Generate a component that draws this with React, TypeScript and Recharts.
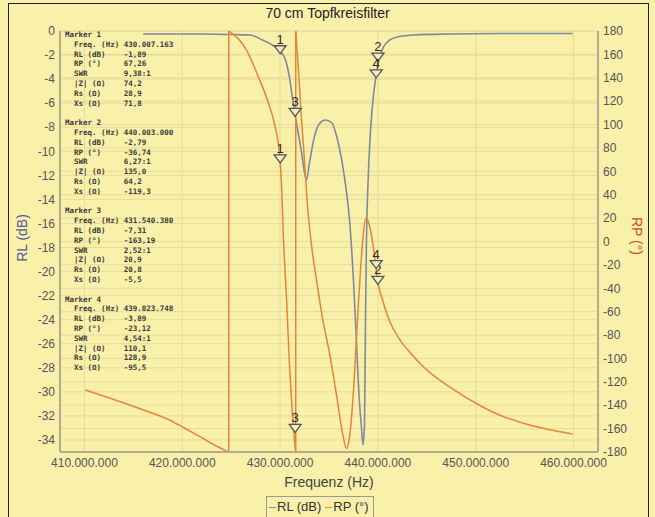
import React from "react"
import { LineChart, Line, XAxis, YAxis, CartesianGrid, ReferenceDot } from "recharts"

// frequencies in MHz
const xTicks = [410, 420, 430, 440, 450, 460]
const rlTicks = [0, -2, -4, -6, -8, -10, -12, -14, -16, -18, -20, -22, -24, -26, -28, -30, -32, -34]
const rpTicks = [180, 160, 140, 120, 100, 80, 60, 40, 20, 0, -20, -40, -60, -80, -100, -120, -140, -160, -180]

// RL (dB)
const rlFreq = [
  416, 421.8, 424.8, 426.9, 428.2, 429.2, 429.9, 430.1, 430.65, 430.95, 431.25, 431.45, 431.8, 432.2,
  432.5, 432.7, 433.0, 433.5, 434.0, 434.6, 435.3, 435.8, 436.3, 436.8, 437.1, 437.5, 437.8, 438.1,
  438.3, 438.48, 438.63, 438.73, 438.83, 439.0, 439.25, 439.55, 439.86, 440.16, 440.57, 441.2, 442.2,
  443.7, 447.3, 452.4, 459.9,
]
const rlDb = [
  -0.25, -0.25, -0.29, -0.33, -0.75, -1.16, -1.58, -1.75, -2.66, -3.82, -5.49, -6.57, -8.23, -10.14,
  -11.81, -12.39, -10.97, -8.81, -7.73, -7.4, -7.65, -8.81, -10.72, -13.47, -15.71, -20.7, -25.69, -30.68,
  -32.76, -34.4, -32.76, -24.0, -17.4, -12.4, -8.23, -5.32, -3.49, -2.24, -1.33, -0.75, -0.46,
  -0.33, -0.25, -0.21, -0.21,
]

// RP (°), three branches between the ±180° wraps
const rp1Freq = [410.1, 412.56, 415.62, 418.69, 420.22, 421.76, 423.29, 424.75]
const rp1Deg = [-127, -133.8, -142.8, -152.6, -159.5, -166.7, -174, -180]

const rp2Freq = [424.75, 425.85, 426.55, 427.7, 428.7, 429.45, 429.95, 430.15, 430.35, 430.65, 430.95, 431.25, 431.58]
const rp2Deg = [180, 172.3, 163.8, 142.4, 121.0, 99.6, 74.0, 48.3, 1.3, -47.5, -103.9, -146.6, -180]

const rp3Freq = [
  431.6, 431.88, 432.19, 432.49, 432.8, 433.21, 433.72, 434.33, 435.05, 435.77, 436.38, 436.79, 437.1,
  437.51, 437.91, 438.22, 438.53, 438.78, 439.03, 439.35, 439.65, 439.96, 440.47, 441.19, 442.21, 443.44,
  444.56, 447.32, 450.7, 452.43, 455.5, 459.9,
]
const rp3Deg = [
  180, 146.7, 103.9, 69.7, 31.2, -3.0, -32.9, -65.4, -95.3, -131.3, -163.7, -177, -167.2,
  -127.0, -67.1, -24.4, 8.1, 20.1, 16.7, 5, -12, -33, -50, -68, -83.5, -96.5,
  -106.5, -124.4, -141.5, -148.4, -156.9, -164.6,
]

const wrapFreq = [424.75, 431.6]

// markers
const markerIds = ["1", "2", "3", "4"]
const markerFreq = [430.007, 440.003, 431.54, 439.824]
const markerRl = [-1.89, -2.5, -7.1, -3.89]
const markerRp = [67.26, -36.74, -163.19, -23.12]

const markerLines = [
  ["Freq. (Hz) 430.007.163", "RL (dB)    -1,89", "RP (°)     67,26", "SWR        9,38:1", "|Z| (Ω)    74,2", "Rs (Ω)     28,9", "Xs (Ω)     71,8"],
  ["Freq. (Hz) 440.003.000", "RL (dB)    -2,79", "RP (°)     -36,74", "SWR        6,27:1", "|Z| (Ω)    135,0", "Rs (Ω)     64,2", "Xs (Ω)     -119,3"],
  ["Freq. (Hz) 431.540.380", "RL (dB)    -7,31", "RP (°)     -163,19", "SWR        2,52:1", "|Z| (Ω)    20,9", "Rs (Ω)     20,8", "Xs (Ω)     -5,5"],
  ["Freq. (Hz) 439.823.748", "RL (dB)    -3,89", "RP (°)     -23,12", "SWR        4,54:1", "|Z| (Ω)    110,1", "Rs (Ω)     128,9", "Xs (Ω)     -95,5"],
]

const BG = "#f9f0aa"
const RL_COLOR = "#7f89a2"
const RP_COLOR = "#e5843c"
const FRAME = "#b2ac8a"
const GRID = "#e6dc9c"
const FONT = "'Liberation Sans', Arial, sans-serif"

const zip = (f: number[], v: number[]) => f.map((x, i) => ({ f: x, v: v[i] }))

const rlData = zip(rlFreq, rlDb)
const rp1 = zip(rp1Freq, rp1Deg)
const rp2 = zip(rp2Freq, rp2Deg)
const rp3 = zip(rp3Freq, rp3Deg)
const wraps = wrapFreq.map((f) => [{ f, v: -180 }, { f, v: 180 }])

function fmtHz(v: number) {
  return `${v}.000.000`
}

function MarkerShape(props: any) {
  const { cx, cy, num } = props
  if (typeof cx !== "number" || typeof cy !== "number") return null
  return (
    <g>
      <text x={cx} y={cy - 10} textAnchor="middle" fontSize={13} fill="#2a2a2a" fontFamily={FONT}>
        {num}
      </text>
      <path
        d={`M${cx - 6},${cy - 8} L${cx + 6},${cy - 8} L${cx},${cy} Z`}
        fill="#f4edbd"
        stroke="#555"
        strokeWidth={1.3}
      />
    </g>
  )
}

export default function App() {
  const tick = { fontSize: 12, fill: "#555", fontFamily: FONT }
  const tableText = markerLines
    .map((lines, i) => [`Marker ${markerIds[i]}`, ...lines.map((l) => "  " + l)].join("\n"))
    .join("\n\n")

  return (
    <div style={{ position: "relative", width: 655, height: 517, background: BG, overflow: "hidden", fontFamily: FONT }}>
      <style>{"body{margin:0}"}</style>
      <div style={{ position: "absolute", left: 8, top: 3, width: 639, height: 530, border: "1px solid #222" }} />

      <LineChart width={655} height={517} margin={{ top: 31, right: 17, bottom: 35, left: 15 }}>
        <CartesianGrid yAxisId="rl" stroke={GRID} />
        <CartesianGrid yAxisId="rp" stroke={GRID} vertical={false} />
        <XAxis
          dataKey="f"
          type="number"
          domain={[407.5, 462.5]}
          allowDataOverflow
          ticks={xTicks}
          tickFormatter={fmtHz}
          tick={tick}
          tickLine={false}
          tickSize={4}
          tickMargin={2}
          height={30}
          axisLine={{ stroke: FRAME, strokeWidth: 2 }}
        />
        <XAxis
          xAxisId="top"
          orientation="top"
          dataKey="f"
          type="number"
          domain={[407.5, 462.5]}
          allowDataOverflow
          tick={false}
          tickLine={false}
          height={0}
          axisLine={{ stroke: FRAME, strokeWidth: 2 }}
        />
        <YAxis
          yAxisId="rl"
          type="number"
          domain={[-35, 0]}
          allowDataOverflow
          ticks={rlTicks}
          tick={tick}
          tickLine={false}
          tickSize={3}
          tickMargin={2}
          width={45}
          axisLine={{ stroke: FRAME, strokeWidth: 2 }}
        />
        <YAxis
          yAxisId="rp"
          orientation="right"
          type="number"
          domain={[-180, 180]}
          allowDataOverflow
          ticks={rpTicks}
          tick={tick}
          tickLine={false}
          tickSize={3}
          tickMargin={2}
          width={40}
          axisLine={{ stroke: FRAME, strokeWidth: 2 }}
        />

        <Line data={rlData} dataKey="v" yAxisId="rl" type="monotone" stroke={RL_COLOR} strokeWidth={1.6} dot={false} isAnimationActive={false} />
        <Line data={rp1} dataKey="v" yAxisId="rp" type="monotone" stroke={RP_COLOR} strokeWidth={1.5} dot={false} isAnimationActive={false} />
        <Line data={rp2} dataKey="v" yAxisId="rp" type="monotone" stroke={RP_COLOR} strokeWidth={1.5} dot={false} isAnimationActive={false} />
        <Line data={rp3} dataKey="v" yAxisId="rp" type="monotone" stroke={RP_COLOR} strokeWidth={1.5} dot={false} isAnimationActive={false} />
        {wraps.map((w, i) => (
          <Line key={i} data={w} dataKey="v" yAxisId="rp" type="linear" stroke={RP_COLOR} strokeWidth={1.5} dot={false} isAnimationActive={false} />
        ))}

        {markerIds.map((id, i) => (
          <ReferenceDot
            key={"rl" + id}
            yAxisId="rl"
            x={markerFreq[i]}
            y={markerRl[i]}
            r={6}
            shape={(p: any) => <MarkerShape {...p} num={id} />}
          />
        ))}
        {markerIds.map((id, i) => (
          <ReferenceDot
            key={"rp" + id}
            yAxisId="rp"
            x={markerFreq[i]}
            y={markerRp[i]}
            r={6}
            shape={(p: any) => <MarkerShape {...p} num={id} />}
          />
        ))}
      </LineChart>

      <div style={{ position: "absolute", left: 0, top: 5, width: 655, textAlign: "center", fontSize: 14, color: "#222" }}>
        70 cm Topfkreisfilter
      </div>
      <div
        style={{
          position: "absolute",
          left: 22,
          top: 238,
          transform: "translate(-50%, -50%) rotate(-90deg)",
          fontSize: 14,
          color: "#5656a0",
          whiteSpace: "nowrap",
        }}
      >
        RL (dB)
      </div>
      <div
        style={{
          position: "absolute",
          left: 637,
          top: 236,
          transform: "translate(-50%, -50%) rotate(90deg)",
          fontSize: 14,
          color: "#d8482c",
          whiteSpace: "nowrap",
        }}
      >
        RP (°)
      </div>
      <div style={{ position: "absolute", left: 0, top: 474, width: 658, textAlign: "center", fontSize: 14, color: "#444" }}>
        Frequenz (Hz)
      </div>
      <div
        style={{
          position: "absolute",
          left: 266,
          top: 496,
          height: 26,
          padding: "2px 4px 0 2px",
          border: "1px solid #999",
          display: "flex",
          alignItems: "flex-start",
          gap: 4,
          fontSize: 13,
          color: "#333",
        }}
      >
        <span style={{ display: "flex", alignItems: "center" }}>
          <span style={{ width: 7, height: 1, background: RL_COLOR, marginRight: 1, marginTop: 2 }} />
          RL (dB)
        </span>
        <span style={{ display: "flex", alignItems: "center" }}>
          <span style={{ width: 7, height: 1, background: RP_COLOR, marginRight: 1, marginTop: 2 }} />
          RP (°)
        </span>
      </div>
      <pre
        style={{
          position: "absolute",
          left: 65,
          top: 30,
          margin: 0,
          fontFamily: "'DejaVu Sans Mono', monospace",
          fontSize: 7.5,
          lineHeight: "9.8px",
          fontWeight: "bold",
          color: "#3a3a3a",
        }}
      >
        {tableText}
      </pre>
    </div>
  )
}
